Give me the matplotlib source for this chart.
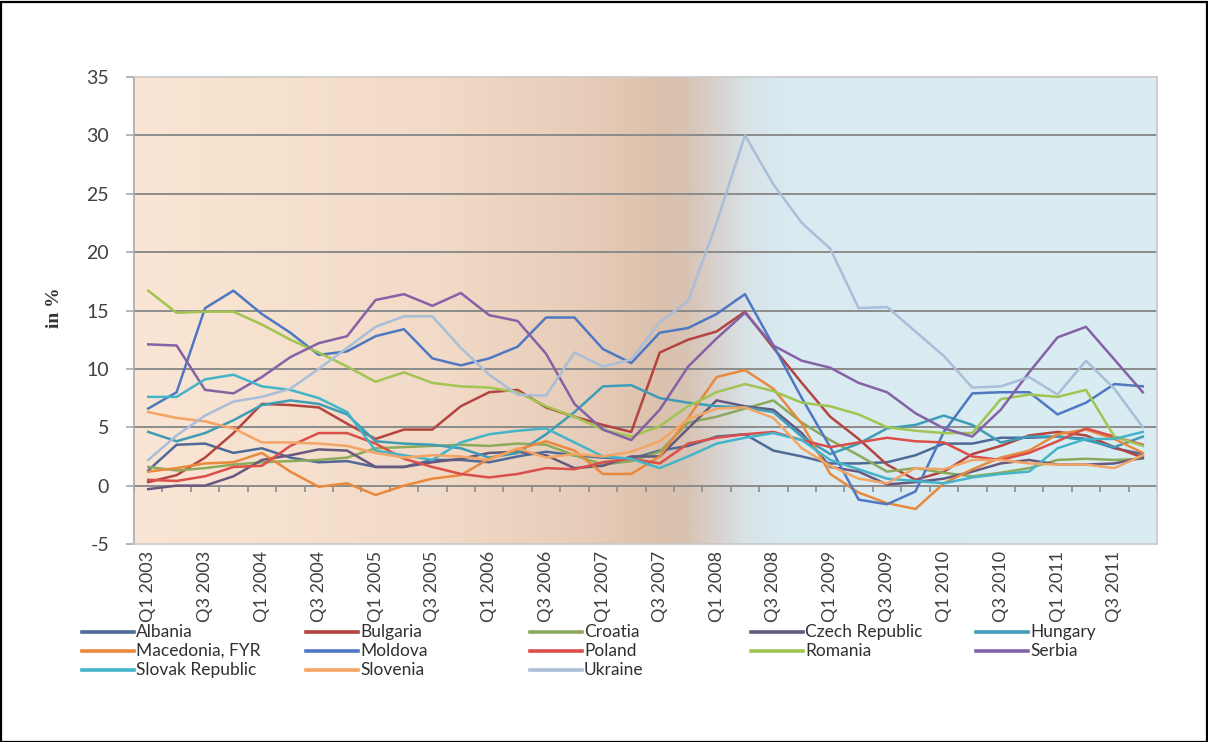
import numpy as np
import matplotlib
matplotlib.use("Agg")
import matplotlib.pyplot as plt
from matplotlib.colors import to_rgb
from matplotlib.lines import Line2D
from matplotlib.patches import Rectangle

plt.rcParams['font.family'] = ['Lato', 'DejaVu Sans']
plt.rcParams['axes.unicode_minus'] = False

# quarterly inflation, y/y in %, Q1 2003 .. Q4 2011
years = list(range(2003, 2012))
quarters = [f"Q{q} {y}" for y in years for q in (1, 2, 3, 4)]

albania = [1.3, 3.5, 3.6, 2.8, 3.2, 2.4, 2.0, 2.1, 1.6, 1.6, 2.2, 2.2, 2.0, 2.5, 2.9, 2.6, 2.4, 2.3,
           3.0, 3.4, 4.2, 4.4, 3.0, 2.5, 1.9, 1.9, 2.0, 2.6, 3.6, 3.6, 4.1, 4.1, 4.2, 4.0, 3.2, 2.7]
bulgaria = [0.3, 0.9, 2.4, 4.5, 7.0, 6.9, 6.7, 5.3, 4.0, 4.8, 4.8, 6.8, 8.0, 8.2, 6.7, 5.9, 5.2, 4.6,
            11.4, 12.5, 13.2, 14.9, 11.8, 8.8, 5.9, 4.0, 1.8, 0.5, 1.2, 2.7, 3.4, 4.3, 4.6, 4.3, 3.3, 2.4]
croatia = [1.6, 1.3, 1.5, 1.8, 2.0, 2.1, 2.2, 2.4, 3.2, 3.3, 3.4, 3.5, 3.4, 3.6, 3.5, 2.6, 1.8, 2.1,
           2.9, 5.4, 5.9, 6.6, 7.3, 5.4, 3.9, 2.6, 1.2, 1.5, 1.1, 0.8, 1.1, 1.5, 2.2, 2.3, 2.2, 2.3]
czech = [-0.3, 0.0, 0.0, 0.8, 2.2, 2.6, 3.1, 3.0, 1.6, 1.6, 2.0, 2.3, 2.8, 2.9, 2.6, 1.5, 1.7, 2.5,
         2.5, 4.9, 7.3, 6.8, 6.5, 4.5, 1.6, 1.2, 0.1, 0.3, 0.6, 1.2, 1.9, 2.2, 1.8, 1.8, 1.9, 2.4]
hungary = [4.6, 3.8, 4.5, 5.6, 6.9, 7.3, 7.0, 6.1, 3.8, 3.6, 3.5, 3.2, 2.4, 2.8, 4.4, 6.3, 8.5, 8.6,
           7.5, 7.1, 6.8, 6.7, 6.3, 4.2, 2.7, 3.6, 4.9, 5.2, 6.0, 5.2, 3.7, 4.2, 4.2, 3.9, 3.3, 4.2]
macedonia = [1.2, 1.5, 1.9, 2.0, 2.8, 1.2, -0.1, 0.2, -0.8, 0.0, 0.6, 0.9, 2.3, 3.1, 3.8, 3.0, 1.0, 1.0,
             2.5, 5.8, 9.3, 9.9, 8.3, 5.3, 1.0, -0.6, -1.5, -2.0, 0.2, 1.4, 2.4, 3.0, 4.4, 4.8, 4.0, 2.8]
moldova = [6.6, 8.0, 15.2, 16.7, 14.7, 13.1, 11.2, 11.5, 12.8, 13.4, 10.9, 10.3, 10.9, 11.9, 14.4, 14.4, 11.7, 10.5,
           13.1, 13.5, 14.7, 16.4, 12.0, 7.5, 3.3, -1.2, -1.6, -0.5, 4.6, 7.9, 8.0, 8.0, 6.1, 7.1, 8.7, 8.5]
poland = [0.5, 0.4, 0.8, 1.6, 1.7, 3.4, 4.5, 4.5, 3.6, 2.3, 1.6, 1.0, 0.7, 1.0, 1.5, 1.4, 2.0, 2.3,
          1.9, 3.6, 4.1, 4.4, 4.6, 3.9, 3.3, 3.7, 4.1, 3.8, 3.7, 2.5, 2.2, 2.8, 3.8, 4.9, 4.2, 3.5]
romania = [16.7, 14.8, 14.9, 14.9, 13.8, 12.5, 11.4, 10.2, 8.9, 9.7, 8.8, 8.5, 8.4, 8.0, 6.8, 5.9, 4.8, 4.2,
           5.1, 6.8, 8.0, 8.7, 8.1, 7.1, 6.8, 6.1, 5.0, 4.7, 4.5, 4.5, 7.4, 7.8, 7.6, 8.2, 4.2, 3.4]
serbia = [12.1, 12.0, 8.2, 7.9, 9.3, 11.0, 12.2, 12.8, 15.9, 16.4, 15.4, 16.5, 14.6, 14.1, 11.3, 7.0, 4.8, 3.9,
          6.5, 10.2, 12.6, 14.8, 12.0, 10.7, 10.1, 8.8, 8.0, 6.2, 4.9, 4.2, 6.5, 9.7, 12.7, 13.6, 10.8, 8.0]
slovakia = [7.6, 7.6, 9.1, 9.5, 8.5, 8.2, 7.5, 6.3, 3.0, 2.6, 2.2, 3.7, 4.4, 4.7, 4.9, 3.7, 2.5, 2.3,
            1.5, 2.5, 3.6, 4.1, 4.5, 3.9, 2.2, 1.4, 0.6, 0.4, 0.2, 0.7, 1.0, 1.2, 3.2, 4.0, 4.0, 4.6]
slovenia = [6.3, 5.8, 5.5, 4.9, 3.7, 3.7, 3.6, 3.4, 2.8, 2.4, 2.6, 2.5, 2.2, 3.2, 2.4, 2.7, 2.5, 2.9,
            3.8, 5.7, 6.6, 6.7, 5.8, 3.2, 1.7, 0.6, 0.2, 1.5, 1.4, 2.2, 2.2, 1.9, 1.8, 1.8, 1.5, 2.6]
ukraine = [2.2, 4.3, 6.0, 7.2, 7.6, 8.3, 10.0, 11.8, 13.6, 14.5, 14.5, 11.8, 9.5, 7.8, 7.7, 11.4, 10.2, 10.8,
           14.0, 15.8, 22.5, 30.0, 25.8, 22.5, 20.3, 15.2, 15.3, 13.2, 11.1, 8.4, 8.5, 9.3, 7.8, 10.7, 8.3, 5.0]

countries = ["Albania", "Bulgaria", "Croatia", "Czech Republic", "Hungary",
             "Macedonia, FYR", "Moldova", "Poland", "Romania", "Serbia",
             "Slovak Republic", "Slovenia", "Ukraine"]
series = [albania, bulgaria, croatia, czech, hungary, macedonia, moldova,
          poland, romania, serbia, slovakia, slovenia, ukraine]
colors = ["#4E6A98", "#B4443F", "#8DAA5C", "#66587F", "#3E9DB6",
          "#E8893E", "#4F78C2", "#DA4F4A", "#A2C452", "#8562A6",
          "#44B4C9", "#F3A565", "#A9BED8"]

W, H = 1208, 742
fig = plt.figure(figsize=(W / 100, H / 100), dpi=100)
ax = fig.add_axes([134 / W, 1 - 544 / H, (1157 - 134) / W, (544 - 77) / H])

n = len(quarters)
x = np.arange(n)
ax.set_xlim(-0.5, n - 0.5)
ax.set_ylim(-5, 35)

# peach -> brown -> light blue background
stops = [(0.00, "#FBE6D5"), (0.30, "#F1DAC7"), (0.45, "#E6CCB8"), (0.51, "#DCC1AC"),
         (0.54, "#D8C3B3"), (0.57, "#D8D2CE"), (0.60, "#D8E3E8"), (0.64, "#D9EBF1"),
         (1.00, "#DAEDF3")]
pos = np.array([s[0] for s in stops])
rgb = np.array([to_rgb(s[1]) for s in stops])
t = np.linspace(0, 1, 600)
grad = np.stack([np.interp(t, pos, rgb[:, k]) for k in range(3)], axis=-1)[None, :, :]
ax.imshow(grad, extent=[-0.5, n - 0.5, -5, 35], aspect="auto", zorder=0, interpolation="bilinear")

for yv in range(0, 35, 5):
    ax.axhline(yv, color="#8C8C8C", lw=1.4, zorder=1)

# category tick marks hang below the zero line
ax.vlines(np.arange(n + 1) - 0.5, -0.55, 0, color="#8C8C8C", lw=1.2, zorder=1)

for vals, col in zip(series, colors):
    ax.plot(x, vals, color=col, lw=1.8, zorder=3, solid_joinstyle="round")

for side in ("top", "right", "bottom"):
    ax.spines[side].set_color("#C8C8C8")
    ax.spines[side].set_linewidth(1.2)
ax.spines["left"].set_color("#A8A8A8")
ax.spines["left"].set_linewidth(1.2)

ax.set_yticks(range(-5, 36, 5))
ax.tick_params(axis="y", length=6, width=1.2, color="#A8A8A8", pad=12,
               labelsize=14, labelcolor="#404040")
ax.set_xticks(x[::2])
ax.set_xticklabels(quarters[::2], rotation=90, fontsize=13, color="#404040")
ax.tick_params(axis="x", length=0, pad=5)

fig.text(55 / W, 1 - 308 / H, "in %", rotation=90, ha="center", va="center",
         fontsize=14, fontweight="bold", family="Liberation Serif", color="#333333")

# legend laid out row by row, five entries per row
col_x = [82, 306, 530, 751, 976]
row_y = [632, 651, 670]
for k, (name, col) in enumerate(zip(countries, colors)):
    r, c = divmod(k, 5)
    x0 = col_x[c]
    yy = 1 - row_y[r] / H
    fig.add_artist(Line2D([x0 / W, (x0 + 52) / W], [yy, yy], color=col, lw=2.6,
                          transform=fig.transFigure))
    fig.text((x0 + 54) / W, yy, name, ha="left", va="center", fontsize=12.5, color="#303030")

fig.add_artist(Rectangle((0.5 / W, 0.5 / H), 1 - 2 / W, 1 - 2 / H, fill=False,
                         edgecolor="black", lw=1.6, transform=fig.transFigure))

fig.savefig("out.png", dpi=100)
